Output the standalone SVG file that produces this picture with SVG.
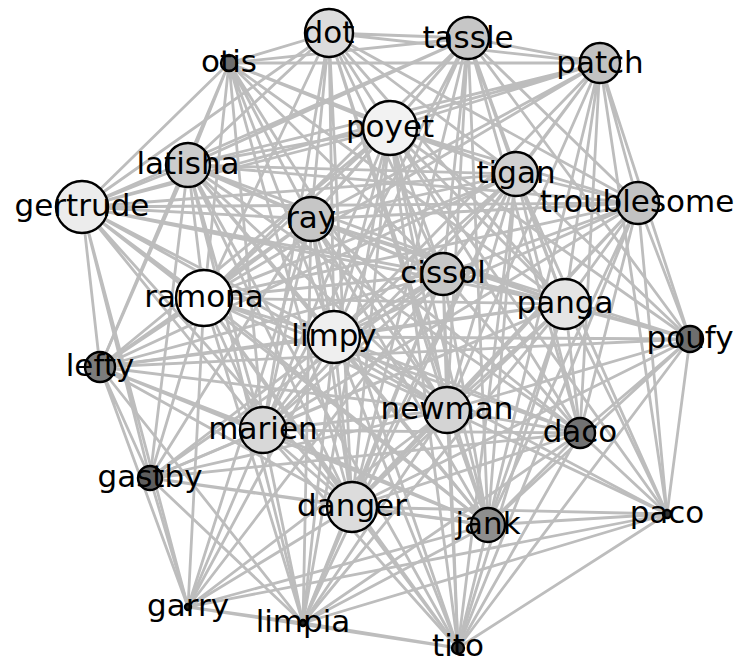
<svg xmlns="http://www.w3.org/2000/svg" width="744" height="664" viewBox="0 0 744 664">
<style>
.e{stroke:#bdbdbd;stroke-width:2.8;fill:none}
.n circle{stroke:#000;stroke-width:2.4}
.n text{font-family:"DejaVu Sans",sans-serif;font-size:31px;fill:#000;text-anchor:middle}
</style>
<rect width="744" height="664" fill="#fff"/>
<g id="edges">
<path class="e" d="M329 33L229 63M329 33L468 38M329 33L600 63M329 33L390 128M329 33L188 165M329 33L82 207M329 33L516 174M329 33L638 203M329 33L311 219M329 33L443 274M329 33L204 298M329 33L565 304M329 33L334 337M329 33L447 410M329 33L263 430M329 33L352 507M329 33L488 525"/>
<path class="e" d="M468 38L229 63M468 38L600 63M468 38L390 128M468 38L188 165M468 38L82 207M468 38L516 174M468 38L638 203M468 38L311 219M468 38L443 274M468 38L204 298M468 38L565 304M468 38L334 337M468 38L447 410M468 38L263 430M468 38L580 433M468 38L352 507M468 38L488 525M468 38L690 339"/>
<path class="e" d="M600 63L229 63M600 63L390 128M600 63L188 165M600 63L82 207M600 63L516 174M600 63L638 203M600 63L311 219M600 63L443 274M600 63L204 298M600 63L565 304M600 63L334 337M600 63L447 410M600 63L580 433M600 63L690 339M600 63L488 525M600 63L667 514"/>
<path class="e" d="M229 63L390 128M229 63L188 165M229 63L82 207M229 63L311 219M229 63L443 274M229 63L204 298M229 63L334 337M229 63L447 410M229 63L263 430M229 63L352 507M229 63L516 174M229 63L565 304M229 63L100 367"/>
<path class="e" d="M390 128L188 165M390 128L82 207M390 128L516 174M390 128L638 203M390 128L311 219M390 128L443 274M390 128L204 298M390 128L565 304M390 128L334 337M390 128L690 339M390 128L447 410M390 128L263 430M390 128L580 433M390 128L352 507M390 128L488 525M390 128L100 367M390 128L303 623M390 128L458 648M390 128L667 514"/>
<path class="e" d="M188 165L82 207M188 165L516 174M188 165L638 203M188 165L311 219M188 165L443 274M188 165L204 298M188 165L565 304M188 165L334 337M188 165L447 410M188 165L263 430M188 165L580 433M188 165L352 507M188 165L488 525M188 165L100 367M188 165L150 478M188 165L303 623M188 165L458 648"/>
<path class="e" d="M516 174L82 207M516 174L638 203M516 174L311 219M516 174L443 274M516 174L204 298M516 174L565 304M516 174L334 337M516 174L690 339M516 174L447 410M516 174L263 430M516 174L580 433M516 174L352 507M516 174L488 525M516 174L100 367M516 174L303 623M516 174L458 648M516 174L667 514"/>
<path class="e" d="M82 207L638 203M82 207L311 219M82 207L443 274M82 207L204 298M82 207L565 304M82 207L334 337M82 207L447 410M82 207L263 430M82 207L352 507M82 207L488 525M82 207L100 367M82 207L150 478M82 207L188 607"/>
<path class="e" d="M638 203L311 219M638 203L443 274M638 203L204 298M638 203L565 304M638 203L334 337M638 203L690 339M638 203L447 410M638 203L263 430M638 203L580 433M638 203L352 507M638 203L488 525M638 203L667 514M638 203L458 648"/>
<path class="e" d="M311 219L443 274M311 219L204 298M311 219L565 304M311 219L334 337M311 219L690 339M311 219L447 410M311 219L263 430M311 219L580 433M311 219L352 507M311 219L488 525M311 219L100 367M311 219L150 478M311 219L188 607M311 219L303 623M311 219L458 648"/>
<path class="e" d="M443 274L204 298M443 274L565 304M443 274L334 337M443 274L690 339M443 274L447 410M443 274L263 430M443 274L580 433M443 274L352 507M443 274L488 525M443 274L100 367M443 274L150 478M443 274L188 607M443 274L303 623M443 274L458 648"/>
<path class="e" d="M204 298L565 304M204 298L334 337M204 298L447 410M204 298L263 430M204 298L580 433M204 298L352 507M204 298L488 525M204 298L100 367M204 298L150 478M204 298L188 607M204 298L303 623M204 298L458 648"/>
<path class="e" d="M565 304L334 337M565 304L690 339M565 304L447 410M565 304L263 430M565 304L580 433M565 304L352 507M565 304L488 525M565 304L100 367M565 304L150 478M565 304L303 623M565 304L458 648M565 304L667 514"/>
<path class="e" d="M334 337L690 339M334 337L447 410M334 337L263 430M334 337L580 433M334 337L352 507M334 337L488 525M334 337L100 367M334 337L150 478M334 337L188 607M334 337L303 623M334 337L458 648M334 337L667 514"/>
<path class="e" d="M690 339L447 410M690 339L580 433M690 339L352 507M690 339L488 525M690 339L100 367M690 339L667 514M690 339L458 648"/>
<path class="e" d="M100 367L447 410M100 367L263 430M100 367L352 507M100 367L488 525M100 367L150 478M100 367L188 607M100 367L303 623"/>
<path class="e" d="M447 410L263 430M447 410L580 433M447 410L352 507M447 410L488 525M447 410L150 478M447 410L188 607M447 410L303 623M447 410L458 648M447 410L667 514"/>
<path class="e" d="M263 430L580 433M263 430L352 507M263 430L488 525M263 430L150 478M263 430L188 607M263 430L303 623M263 430L458 648"/>
<path class="e" d="M580 433L352 507M580 433L488 525M580 433L150 478M580 433L303 623M580 433L458 648M580 433L667 514"/>
<path class="e" d="M150 478L352 507M150 478L488 525M150 478L188 607M150 478L303 623"/>
<path class="e" d="M352 507L488 525M352 507L188 607M352 507L303 623M352 507L458 648M352 507L667 514"/>
<path class="e" d="M488 525L188 607M488 525L303 623M488 525L458 648M488 525L667 514"/>
<path class="e" d="M667 514L458 648M667 514L303 623M667 514L188 607M188 607L303 623M303 623L458 648M188 607L458 648"/>
</g>
<g id="node-dot" class="n"><circle cx="329" cy="33" r="24" fill="#dcdcdc"/><text x="329" y="43">dot</text></g>
<g id="node-tassle" class="n"><circle cx="468" cy="38" r="21" fill="#c6c6c6"/><text x="468" y="48">tassle</text></g>
<g id="node-patch" class="n"><circle cx="600" cy="63" r="20" fill="#c2c2c2"/><text x="600" y="73">patch</text></g>
<g id="node-otis" class="n"><circle cx="229" cy="63" r="8" fill="#6e6e6e"/><text x="229" y="72">otis</text></g>
<g id="node-poyet" class="n"><circle cx="390" cy="128" r="27" fill="#f2f2f2"/><text x="390" y="137">poyet</text></g>
<g id="node-latisha" class="n"><circle cx="188" cy="165" r="22" fill="#cccccc"/><text x="188" y="174">latisha</text></g>
<g id="node-tigan" class="n"><circle cx="516" cy="174" r="22" fill="#d0d0d0"/><text x="516" y="183">tigan</text></g>
<g id="node-gertrude" class="n"><circle cx="82" cy="207" r="26" fill="#ececec"/><text x="82" y="216">gertrude</text></g>
<g id="node-troublesome" class="n"><circle cx="638" cy="203" r="21" fill="#c2c2c2"/><text x="637" y="212">troublesome</text></g>
<g id="node-ray" class="n"><circle cx="311" cy="219" r="22" fill="#c6c6c6"/><text x="311" y="228">ray</text></g>
<g id="node-cissol" class="n"><circle cx="443" cy="274" r="21" fill="#c6c6c6"/><text x="443" y="283">cissol</text></g>
<g id="node-ramona" class="n"><circle cx="204" cy="298" r="28" fill="#ffffff"/><text x="204" y="307">ramona</text></g>
<g id="node-panga" class="n"><circle cx="565" cy="304" r="25" fill="#e4e4e4"/><text x="565" y="313">panga</text></g>
<g id="node-limpy" class="n"><circle cx="334" cy="337" r="26" fill="#efefef"/><text x="334" y="346">limpy</text></g>
<g id="node-poufy" class="n"><circle cx="690" cy="339" r="13" fill="#6e6e6e"/><text x="690" y="348">poufy</text></g>
<g id="node-lefty" class="n"><circle cx="100" cy="367" r="15" fill="#7c7c7c"/><text x="100" y="376">lefty</text></g>
<g id="node-newman" class="n"><circle cx="447" cy="410" r="23" fill="#d4d4d4"/><text x="447" y="419">newman</text></g>
<g id="node-marien" class="n"><circle cx="263" cy="430" r="23" fill="#d8d8d8"/><text x="263" y="439">marien</text></g>
<g id="node-daco" class="n"><circle cx="580" cy="433" r="15" fill="#727272"/><text x="580" y="442">daco</text></g>
<g id="node-gastby" class="n"><circle cx="150" cy="478" r="12" fill="#5e5e5e"/><text x="150" y="487">gastby</text></g>
<g id="node-danger" class="n"><circle cx="352" cy="507" r="25" fill="#dcdcdc"/><text x="352" y="516">danger</text></g>
<g id="node-jank" class="n"><circle cx="488" cy="525" r="17" fill="#8e8e8e"/><text x="488" y="534">jank</text></g>
<g id="node-paco" class="n"><circle cx="667" cy="514" r="4" fill="#333333"/><text x="667" y="523">paco</text></g>
<g id="node-garry" class="n"><circle cx="188" cy="607" r="3" fill="#222222"/><text x="188" y="616">garry</text></g>
<g id="node-limpia" class="n"><circle cx="303" cy="623" r="3" fill="#222222"/><text x="303" y="632">limpia</text></g>
<g id="node-tito" class="n"><circle cx="458" cy="648" r="6" fill="#333333"/><text x="458" y="656">tito</text></g>
</svg>
